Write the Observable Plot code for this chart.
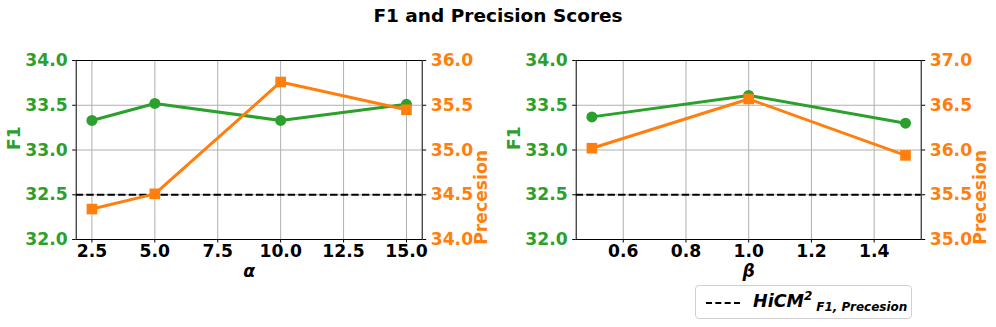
<!DOCTYPE html>
<html>
<head>
<meta charset="utf-8">
<script src="https://cdn.jsdelivr.net/npm/d3@7"></script>
<script src="https://cdn.jsdelivr.net/npm/@observablehq/plot@0.6"></script>
<style>
  html, body { margin: 0; padding: 0; background: #fff; }
  #wrap { position: relative; width: 996px; height: 327px; overflow: hidden; font-family: "DejaVu Sans", sans-serif; }
  #title { position: absolute; left: 0; width: 996px; top: 4px; text-align: center; font-weight: bold; font-size: 18.5px; line-height: 23px; color: #000; }
  .panel { position: absolute; top: 0; }
  #legend { position: absolute; left: 695px; top: 285px; width: 217px; height: 34px; border: 1px solid #d0d0d0; border-radius: 4px; background: #fff; box-sizing: border-box; }
  #legend .sample { position: absolute; left: 10px; top: 16px; width: 34px; height: 0; border-top: 2px dashed #000; }
  #legend .lbl { position: absolute; left: 57px; top: 3px; font-weight: bold; font-style: italic; font-size: 17.5px; white-space: nowrap; color: #000; }
  #legend sup { font-size: 12px; vertical-align: 7px; }
  #legend sub { font-size: 12px; vertical-align: -4px; margin-left: 4px; }
</style>
</head>
<body>
<div id="wrap">
  <div id="title">F1 and Precision Scores</div>
  <div id="p1" class="panel" style="left:0px"></div>
  <div id="p2" class="panel" style="left:498px"></div>
  <div id="legend"><div class="sample"></div><div class="lbl">HiCM<sup>2</sup><sub>F1, Precesion</sub></div></div>
</div>
<script>
// ---- data ----
const alphaValues = [2.5, 5.0, 10.0, 15.0];
const alphaF1 = [33.33, 33.52, 33.33, 33.51];
const alphaPrecision = [34.34, 34.51, 35.76, 35.45];

const betaValues = [0.5, 1.0, 1.5];
const betaF1 = [33.37, 33.61, 33.30];
const betaPrecision = [36.02, 36.57, 35.94];

const baselineF1 = 32.5;

const f1Ticks = [32.0, 32.5, 33.0, 33.5, 34.0];
const alphaPrecisionDomain = [34.0, 36.0];
const betaPrecisionDomain = [35.0, 37.0];
const alphaTicks = [2.5, 5.0, 7.5, 10.0, 12.5, 15.0];
const betaTicks = [0.6, 0.8, 1.0, 1.2, 1.4];
const alphaDomain = [1.875, 15.625];
const betaDomain = [0.45, 1.55];

const GREEN = "#2ca02c";
const ORANGE = "#ff7f0e";
const GRID = "#b0b0b0";
const FS = 17.2;

function panel({xs, f1, prec, precDomain, xTicks, xDomain, xLabel, marginLeft, marginRight}) {
  const f1Domain = [f1Ticks[0], f1Ticks[f1Ticks.length - 1]];
  const offset = precDomain[0] - f1Domain[0];
  const f1Data = xs.map((x, i) => ({x, v: f1[i]}));
  const precData = xs.map((x, i) => ({x, v: prec[i]}));
  return Plot.plot({
    width: 498,
    height: 290,
    marginLeft,
    marginRight,
    marginTop: 60,
    marginBottom: 51,
    style: {fontFamily: "'DejaVu Sans', sans-serif", fontSize: FS + "px", fontWeight: "bold", background: "transparent", overflow: "visible"},
    x: {domain: xDomain, label: null},
    y: {domain: f1Domain, label: null},
    marks: [
      Plot.gridX(xTicks, {stroke: GRID, strokeOpacity: 1, strokeWidth: 1}),
      Plot.gridY(f1Ticks, {stroke: GRID, strokeOpacity: 1, strokeWidth: 1}),
      Plot.line(f1Data, {x: "x", y: "v", stroke: GREEN, strokeWidth: 3}),
      Plot.dot(f1Data, {x: "x", y: "v", fill: GREEN, r: 5.5, symbol: "circle"}),
      Plot.ruleY([baselineF1], {stroke: "black", strokeWidth: 2, strokeDasharray: "7.4,3.2"}),
      Plot.line(precData, {x: "x", y: d => d.v - offset, stroke: ORANGE, strokeWidth: 3}),
      Plot.dot(precData, {x: "x", y: d => d.v - offset, fill: ORANGE, r: 6, symbol: "square"}),
      Plot.frame({stroke: "black", strokeWidth: 1}),
      Plot.axisX(xTicks, {anchor: "bottom", tickSize: 3.5, tickPadding: 2, tickFormat: d => d.toFixed(1), fill: "black", stroke: "black", fontSize: FS, fontWeight: "bold", label: null}),
      Plot.axisY(f1Ticks, {anchor: "left", tickSize: 3.5, tickPadding: 5, tickFormat: d => d.toFixed(1), fill: GREEN, stroke: "black", fontSize: FS, fontWeight: "bold", label: null}),
      Plot.axisY(f1Ticks, {anchor: "right", tickSize: 3.5, tickPadding: 5, tickFormat: d => (d + offset).toFixed(1), fill: ORANGE, stroke: "black", fontSize: FS, fontWeight: "bold", label: null}),
      Plot.text([xLabel], {text: d => d, frameAnchor: "bottom", dy: 37, fill: "black", fontSize: FS, fontWeight: "bold", fontStyle: "italic"}),
      Plot.text(["F1"], {text: d => d, frameAnchor: "left", dx: -62, rotate: -90, fill: GREEN, fontSize: FS, fontWeight: "bold"}),
      Plot.text(["Precesion"], {text: d => d, frameAnchor: "right", dx: 59, rotate: -90, fill: ORANGE, fontSize: FS, fontWeight: "bold"})
    ]
  });
}

document.getElementById("p1").append(panel({
  xs: alphaValues, f1: alphaF1, prec: alphaPrecision, precDomain: alphaPrecisionDomain,
  xTicks: alphaTicks, xDomain: alphaDomain, xLabel: "α", marginLeft: 75.7, marginRight: 76.3
}));
document.getElementById("p2").append(panel({
  xs: betaValues, f1: betaF1, prec: betaPrecision, precDomain: betaPrecisionDomain,
  xTicks: betaTicks, xDomain: betaDomain, xLabel: "β", marginLeft: 77.7, marginRight: 75.3
}));
</script>
</body>
</html>
